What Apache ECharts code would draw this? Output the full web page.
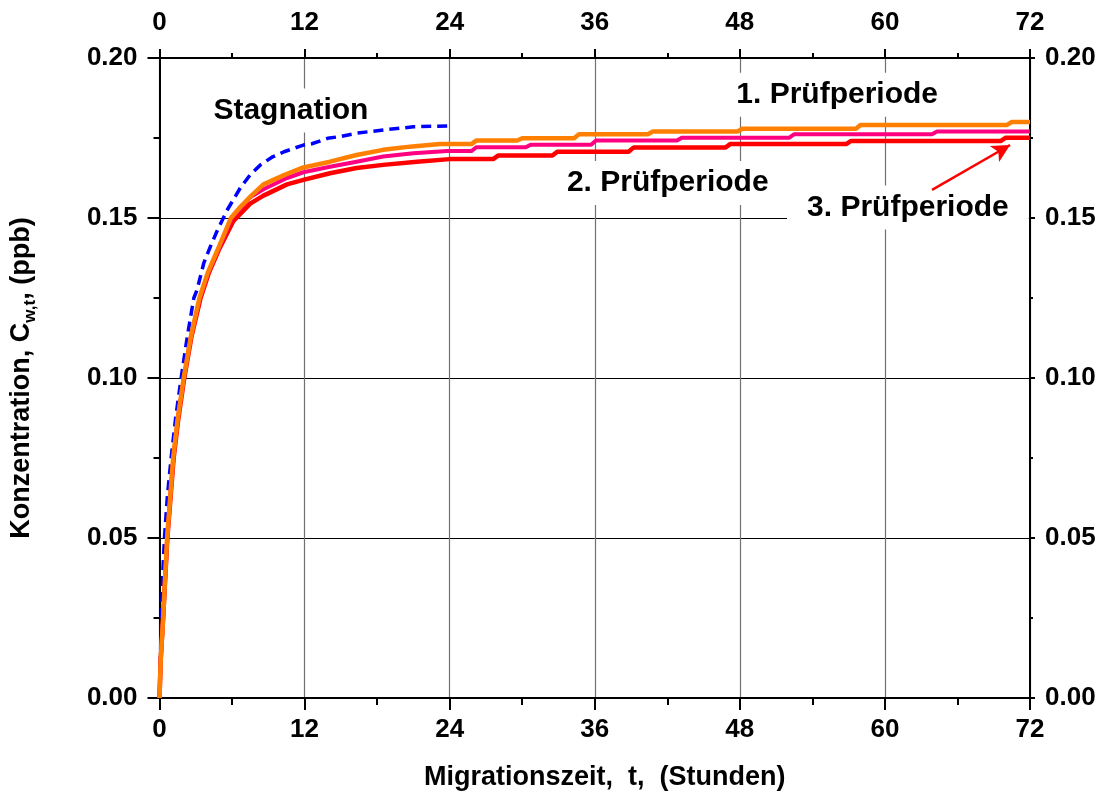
<!DOCTYPE html>
<html>
<head>
<meta charset="utf-8">
<script src="https://cdn.jsdelivr.net/npm/echarts@6/dist/echarts.min.js"></script>
<style>html,body{margin:0;padding:0;background:#fff;}#c{width:1110px;height:802px;}</style>
</head>
<body>
<div id="c"></div>
<script>
// ---- data ----
var xTicks = [0, 12, 24, 36, 48, 60, 72];
var yTicks = [0, 0.05, 0.10, 0.15, 0.20];

var stagT = [0, 0.08, 0.16, 0.27, 0.41, 0.65, 0.96, 1.35, 1.79, 2.3, 2.84, 3.1, 3.67, 4.2, 4.77, 5.6, 6.7, 7.5, 8.35, 9.3, 10.3, 11.9, 12.6, 13.9, 15, 16.3, 18.5, 21, 24];
var stagC = [0, 0.013, 0.025, 0.039, 0.05, 0.063, 0.075, 0.088, 0.10, 0.113, 0.125, 0.1275, 0.136, 0.141, 0.146, 0.1525, 0.1595, 0.1635, 0.1666, 0.169, 0.1707, 0.1728, 0.1732, 0.1749, 0.1755, 0.1765, 0.1775, 0.1785, 0.1788];

var p1T = [0, 0.1, 0.3, 0.63, 1.13, 1.5, 2.0, 2.6, 3.3, 4.0, 4.8, 5.9, 6.7, 7.6, 8.6, 10.3, 11.9, 14.1, 16.3, 18.5, 20.7, 23.2, 25.8, 26.2, 29.6, 30.0, 34.3, 34.7, 40.4, 40.8, 47.8, 48.2, 57.6, 58.0, 70.1, 70.5, 72];
var p1C = [0, 0.012, 0.025, 0.05, 0.075, 0.087, 0.10, 0.113, 0.125, 0.133, 0.14, 0.15, 0.1535, 0.157, 0.1605, 0.1634, 0.1658, 0.1676, 0.1697, 0.1713, 0.1723, 0.1731, 0.1731, 0.1742, 0.1742, 0.1749, 0.1749, 0.1762, 0.1762, 0.1770, 0.1770, 0.1779, 0.1779, 0.1791, 0.1791, 0.1800, 0.1800];

var p2T = [0, 0.1, 0.3, 0.64, 1.15, 1.5, 2.02, 2.6, 3.35, 4.05, 4.85, 6.0, 7.5, 8.6, 10.55, 11.9, 14.1, 16.3, 18.5, 21, 23.8, 25.8, 26.2, 30.3, 30.7, 35.7, 36.1, 42.8, 43.2, 52.1, 52.5, 63.9, 64.3, 72];
var p2C = [0, 0.012, 0.025, 0.05, 0.075, 0.087, 0.10, 0.113, 0.125, 0.133, 0.14, 0.15, 0.1565, 0.159, 0.1625, 0.1643, 0.166, 0.1676, 0.1692, 0.1702, 0.1709, 0.1709, 0.1721, 0.1721, 0.1729, 0.1729, 0.1742, 0.1742, 0.1751, 0.1751, 0.1762, 0.1762, 0.1770, 0.1770];

var p3T = [0, 0.1, 0.3, 0.65, 1.17, 1.55, 2.05, 2.65, 3.4, 4.1, 4.9, 6.1, 7.5, 8.6, 10.55, 11.9, 14.1, 16.3, 18.5, 21.3, 24, 27.6, 28.0, 32.5, 32.9, 38.8, 39.2, 46.8, 47.2, 56.8, 57.2, 69.6, 70.0, 72];
var p3C = [0, 0.012, 0.025, 0.05, 0.075, 0.087, 0.10, 0.113, 0.125, 0.133, 0.14, 0.149, 0.1545, 0.157, 0.1605, 0.1619, 0.164, 0.1656, 0.1666, 0.1676, 0.1684, 0.1684, 0.1695, 0.1695, 0.1707, 0.1707, 0.172, 0.172, 0.1731, 0.1731, 0.1741, 0.1741, 0.1751, 0.1751];

var noteTexts = ['Stagnation', '1. Prüfperiode', '2. Prüfperiode', '3. Prüfperiode'];
var noteT = [10.87, 56.05, 42.04, 61.9];
var noteC = [0.1836, 0.1885, 0.1609, 0.1533];

var arrowFrom = [63.9, 0.1588];
var arrowTo = [70.35, 0.1728];

// ---- chart ----
var FONT = '"Liberation Sans", Arial, Helvetica, sans-serif';
function zip(a, b) { return a.map(function (v, i) { return [v, b[i]]; }); }

var chart = echarts.init(document.getElementById('c'), null, { renderer: 'canvas' });

function xAxisDef(pos) {
  var top = pos === 'top';
  return {
    type: 'value', position: pos, min: 0, max: 72, interval: 12,
    axisLine: { show: true, onZero: false, lineStyle: { color: '#000', width: 2 } },
    axisTick: { show: true, inside: false, length: top ? 9 : 12, lineStyle: { color: '#000', width: 2 } },
    minorTick: { show: true, splitNumber: 2, length: top ? 5 : 7, lineStyle: { color: '#000', width: 2 } },
    axisLabel: { show: true, margin: top ? 22 : 19, color: '#000', fontSize: 26, fontWeight: 'bold', fontFamily: FONT,
      formatter: function (v) { return xTicks.indexOf(v) >= 0 ? String(v) : ''; } },
    splitLine: { show: !top, lineStyle: { color: '#707070', width: 1.2 } },
    minorSplitLine: { show: false },
    name: top ? '' : 'Migrationszeit,  t,  (Stunden)',
    nameLocation: 'middle', nameGap: 66,
    nameTextStyle: { color: '#000', fontSize: 27, fontWeight: 'bold', fontFamily: FONT, padding: [0, 0, 0, 20] }
  };
}
function yAxisDef(pos) {
  var left = pos === 'left';
  return {
    type: 'value', position: pos, min: 0, max: 0.2, interval: 0.05,
    axisLine: { show: true, onZero: false, lineStyle: { color: '#000', width: 2 } },
    axisTick: { show: true, inside: false, length: left ? 12 : 5, lineStyle: { color: '#000', width: 2 } },
    minorTick: { show: true, splitNumber: 2, length: left ? 6 : 3, lineStyle: { color: '#000', width: 2 } },
    axisLabel: { show: true, margin: left ? 22 : 15, color: '#000', fontSize: 26, fontWeight: 'bold', fontFamily: FONT,
      formatter: function (v) { return v.toFixed(2); } },
    splitLine: { show: left, lineStyle: { color: '#000', width: 1 } },
    name: left ? '{a|Konzentration, C}{s|w,t}{a|, (ppb)}' : '',
    nameLocation: 'middle', nameGap: 121, nameRotate: 90,
    nameTextStyle: {
      color: '#000', fontFamily: FONT, fontWeight: 'bold',
      rich: {
        a: { fontSize: 27, fontWeight: 'bold', fontFamily: FONT, color: '#000', lineHeight: 34 },
        s: { fontSize: 17, fontWeight: 'bold', fontFamily: FONT, color: '#000', lineHeight: 17, verticalAlign: 'bottom' }
      }
    }
  };
}

var option = {
  animation: false,
  backgroundColor: '#fff',
  grid: { left: 159, right: 80, top: 58, bottom: 104, containLabel: false },
  xAxis: [xAxisDef('bottom'), xAxisDef('top')],
  yAxis: [yAxisDef('left'), yAxisDef('right')],
  series: [
    { name: 'Stagnation', type: 'line', data: zip(stagT, stagC), showSymbol: false, z: 2,
      lineStyle: { color: '#0000FF', width: 3.5, type: [10, 6] } },
    { name: '3. Prüfperiode', type: 'line', data: zip(p3T, p3C), showSymbol: false, z: 3,
      lineStyle: { color: '#FF0000', width: 4.5 },
      markLine: {
        silent: true, symbol: ['none', 'arrow'], symbolSize: [14, 18],
        label: { show: false },
        lineStyle: { color: '#FF0000', width: 2.5, type: 'solid' },
        data: [[{ coord: arrowFrom }, { coord: arrowTo }]]
      } },
    { name: '2. Prüfperiode', type: 'line', data: zip(p2T, p2C), showSymbol: false, z: 4,
      lineStyle: { color: '#FF0080', width: 4 } },
    { name: '1. Prüfperiode', type: 'line', data: zip(p1T, p1C), showSymbol: false, z: 5,
      lineStyle: { color: '#FF8000', width: 4.5 } }
  ]
};
chart.setOption(option);

var g = noteTexts.map(function (txt, i) {
  var p = chart.convertToPixel({ gridIndex: 0 }, [noteT[i], noteC[i]]);
  return {
    type: 'text', x: p[0], y: p[1], z: 1, silent: true,
    style: {
      text: txt, fill: '#000', font: 'bold 30px ' + FONT,
      align: 'center', verticalAlign: 'middle',
      backgroundColor: '#fff', padding: [7, 20, 7, 20]
    }
  };
});
chart.setOption({ graphic: { elements: g } });
</script>
</body>
</html>
